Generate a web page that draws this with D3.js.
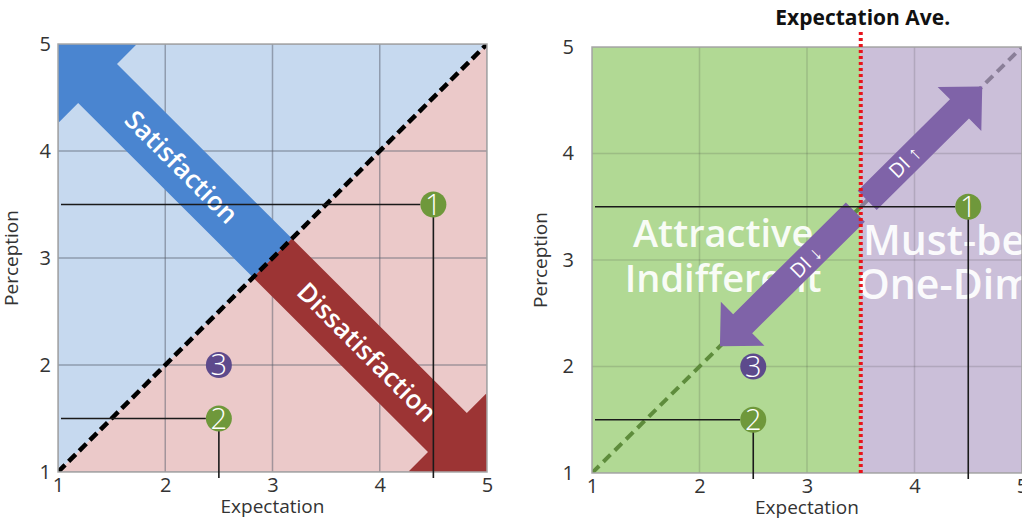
<!DOCTYPE html>
<html>
  <head>
    <meta charset="utf-8">
    <title>Expectation vs Perception</title>
    <script src="https://cdn.jsdelivr.net/npm/d3@7"></script>
    <style>
      body { margin: 0; background: #fff; }
      svg { display: block; font-family: "Open Sans", "Noto Sans", sans-serif; }
      .tick text { font-size: 20px; fill: #333; }
    </style>
  </head>
  <body>
    <svg id="chart" width="1022" height="519"></svg>

    <script>
      // data
      const ticks = [1, 2, 3, 4, 5];
      const pointIds = ["1", "2", "3"];
      const expectation = [4.5, 2.5, 2.5];
      const perception = [3.5, 1.5, 2];
      const pointColors = ["#6f983b", "#6f983b", "#5d4a8c"];
      const hasGuides = [true, true, false];
      const expectationAve = 3.5;

      // left panel arrows: [label, from, to, colour, label centre]
      const satArrows = [
        ["Satisfaction", [3, 3], [0.94, 5.06], "#4a85d0", [2.15, 3.85]],
        ["Dissatisfaction", [3, 3], [5.06, 0.94], "#9c3434", [3.88, 2.12]]
      ];
      // right panel arrows
      const diArrows = [
        ["DI \u2191", [3.56, 3.56], [4.63, 4.63], [3.91, 3.92]],
        ["DI \u2193", [3.45, 3.45], [2.19, 2.19], [2.99, 2.98]]
      ];
      const quadrantText = [
        ["Attractive", 2.22, 3.12, "middle", 38],
        ["Indifferent", 2.22, 2.70, "middle", 38],
        ["Must-be", 3.52, 3.05, "start", 41],
        ["One-Dim", 3.47, 2.63, "start", 41]
      ];

      const svg = d3.select("#chart");

      function arrowPath(x, y, from, to, shaftW, headW, headL) {
        let x0 = x(from[0]), y0 = y(from[1]), x1 = x(to[0]), y1 = y(to[1]);
        let len = Math.hypot(x1 - x0, y1 - y0);
        let ux = (x1 - x0) / len, uy = (y1 - y0) / len;
        let px = -uy, py = ux;
        let nx = x1 - ux * headL, ny = y1 - uy * headL;
        let s = shaftW / 2, h = headW / 2;
        let pts = [
          [x0 + px * s, y0 + py * s], [nx + px * s, ny + py * s], [nx + px * h, ny + py * h],
          [x1, y1],
          [nx - px * h, ny - py * h], [nx - px * s, ny - py * s], [x0 - px * s, y0 - py * s]
        ];
        return d3.line()(pts) + "Z";
      }

      function panel(id, xr, yr, padY, titleX) {
        let x = d3.scaleLinear().domain([1, 5]).range(xr);
        let y = d3.scaleLinear().domain([1, 5]).range(yr);
        let g = svg.append("g");
        svg.append("defs").append("clipPath").attr("id", "clip" + id)
          .append("rect").attr("x", xr[0]).attr("y", yr[1])
          .attr("width", xr[1] - xr[0]).attr("height", yr[0] - yr[1]);
        let plot = g.append("g").attr("clip-path", "url(#clip" + id + ")");

        g.append("g")
          .attr("transform", "translate(" + xr[0] + ",0)")
          .call(d3.axisLeft(y).tickValues(ticks).tickFormat(d3.format("d")).tickSize(0).tickPadding(padY))
          .attr("font-family", null).attr("font-size", null)
          .call(a => a.select(".domain").remove());
        g.append("g")
          .attr("transform", "translate(0," + yr[0] + ")")
          .call(d3.axisBottom(x).tickValues(ticks).tickFormat(d3.format("d")).tickSize(0).tickPadding(6))
          .attr("font-family", null).attr("font-size", null)
          .call(a => a.select(".domain").remove());

        g.append("text")
          .attr("transform", "translate(" + titleX + "," + ((yr[0] + yr[1]) / 2) + ") rotate(-90)")
          .attr("text-anchor", "middle")
          .style("font-size", "19px").style("fill", "#333")
          .text("Perception");
        g.append("text")
          .attr("x", x(3)).attr("y", yr[0] + 41)
          .attr("text-anchor", "middle")
          .style("font-size", "19px").style("fill", "#333")
          .text("Expectation");
        return { x, y, g, plot };
      }

      function grid(p, color) {
        p.plot.selectAll(".gx").data(ticks).join("line")
          .attr("x1", d => p.x(d)).attr("x2", d => p.x(d))
          .attr("y1", p.y(1)).attr("y2", p.y(5))
          .style("stroke", color).style("stroke-width", 1.5);
        p.plot.selectAll(".gy").data(ticks).join("line")
          .attr("y1", d => p.y(d)).attr("y2", d => p.y(d))
          .attr("x1", p.x(1)).attr("x2", p.x(5))
          .style("stroke", color).style("stroke-width", 1.5);
      }

      function points(p) {
        pointIds.forEach((id, i) => {
          let cx = p.x(expectation[i]), cy = p.y(perception[i]);
          if (hasGuides[i]) {
            p.g.append("line")
              .attr("x1", p.x(1) + 3).attr("x2", cx - 13)
              .attr("y1", cy).attr("y2", cy)
              .style("stroke", "#1a1a1a").style("stroke-width", 1.6);
            p.g.append("line")
              .attr("x1", cx).attr("x2", cx)
              .attr("y1", cy + 12).attr("y2", p.y(1) + 6)
              .style("stroke", "#1a1a1a").style("stroke-width", 1.6);
          }
          p.g.append("circle")
            .attr("cx", cx).attr("cy", cy).attr("r", 13)
            .style("fill", pointColors[i]);
          p.g.append("text")
            .attr("x", cx).attr("y", cy)
            .attr("text-anchor", "middle")
            .attr("dy", "0.36em")
            .style("font-size", "29px").style("font-weight", 300).style("fill", "#fff")
            .text(id);
        });
      }

      // left panel
      let L = panel("L", [58, 487], [472, 44], 7, 18);
      L.plot.append("path")
        .attr("d", d3.line()([[L.x(1), L.y(1)], [L.x(1), L.y(5)], [L.x(5), L.y(5)]]) + "Z")
        .style("fill", "#c6d9ef");
      L.plot.append("path")
        .attr("d", d3.line()([[L.x(1), L.y(1)], [L.x(5), L.y(1)], [L.x(5), L.y(5)]]) + "Z")
        .style("fill", "#ebc9c9");
      grid(L, "rgba(90,95,110,0.5)");
      satArrows.forEach(a => {
        L.plot.append("path")
          .attr("d", arrowPath(L.x, L.y, a[1], a[2], 55, 110, 65))
          .style("fill", a[3]);
      });
      L.plot.append("line")
        .attr("x1", L.x(1)).attr("y1", L.y(1)).attr("x2", L.x(5)).attr("y2", L.y(5))
        .style("stroke", "#000").style("stroke-width", 4.5).style("stroke-dasharray", "10,5");
      satArrows.forEach(a => {
        L.g.append("text")
          .attr("transform", "translate(" + L.x(a[4][0]) + "," + L.y(a[4][1]) + ") rotate(45)")
          .attr("text-anchor", "middle").attr("dy", "0.35em")
          .style("font-size", "26px").style("font-weight", 600).style("fill", "#fff")
          .text(a[0]);
      });
      L.g.append("rect")
        .attr("x", L.x(1)).attr("y", L.y(5))
        .attr("width", L.x(5) - L.x(1)).attr("height", L.y(1) - L.y(5))
        .style("fill", "none").style("stroke", "#a8a8a8").style("stroke-width", 1.5);
      points(L);

      // right panel
      let R = panel("R", [592, 1022], [473, 47], 18, 547);
      R.plot.append("rect")
        .attr("x", R.x(1)).attr("y", R.y(5))
        .attr("width", R.x(expectationAve) - R.x(1)).attr("height", R.y(1) - R.y(5))
        .style("fill", "#b1d994");
      R.plot.append("rect")
        .attr("x", R.x(expectationAve)).attr("y", R.y(5))
        .attr("width", R.x(5) - R.x(expectationAve)).attr("height", R.y(1) - R.y(5))
        .style("fill", "#cbbfd9");
      grid(R, "rgba(60,60,60,0.18)");
      R.plot.append("line")
        .attr("x1", R.x(1)).attr("y1", R.y(1))
        .attr("x2", R.x(expectationAve)).attr("y2", R.y(expectationAve))
        .style("stroke", "#5e8c3c").style("stroke-width", 4).style("stroke-dasharray", "10,6");
      R.plot.append("line")
        .attr("x1", R.x(expectationAve)).attr("y1", R.y(expectationAve))
        .attr("x2", R.x(5)).attr("y2", R.y(5))
        .style("stroke", "#8a7f98").style("stroke-width", 4).style("stroke-dasharray", "10,6");
      quadrantText.forEach(t => {
        R.plot.append("text")
          .attr("x", R.x(t[1])).attr("y", R.y(t[2]))
          .attr("text-anchor", t[3])
          .style("font-size", t[4] + "px").style("font-weight", 600)
          .style("fill", "#fff").style("opacity", 0.92)
          .text(t[0]);
      });
      diArrows.forEach(a => {
        R.plot.append("path")
          .attr("d", arrowPath(R.x, R.y, a[1], a[2], 27, 62, 32))
          .style("fill", "#7f63a8");
        R.plot.append("text")
          .attr("transform", "translate(" + R.x(a[3][0]) + "," + R.y(a[3][1]) + ") rotate(-45)")
          .attr("text-anchor", "middle").attr("dy", "0.35em")
          .style("font-size", "20px").style("fill", "#fff")
          .text(a[0]);
      });
      R.g.append("rect")
        .attr("x", R.x(1)).attr("y", R.y(5))
        .attr("width", R.x(5) - R.x(1)).attr("height", R.y(1) - R.y(5))
        .style("fill", "none").style("stroke", "#a8a8a8").style("stroke-width", 1.5);
      R.g.append("line")
        .attr("x1", R.x(expectationAve)).attr("x2", R.x(expectationAve))
        .attr("y1", 32).attr("y2", R.y(1))
        .style("stroke", "#e8141c").style("stroke-width", 4).style("stroke-dasharray", "3,3");
      R.g.append("text")
        .attr("x", R.x(expectationAve) + 2).attr("y", 25)
        .attr("text-anchor", "middle")
        .style("font-size", "21px").style("font-weight", 700).style("fill", "#111")
        .text("Expectation Ave.");
      points(R);
    </script>
  </body>
</html>
